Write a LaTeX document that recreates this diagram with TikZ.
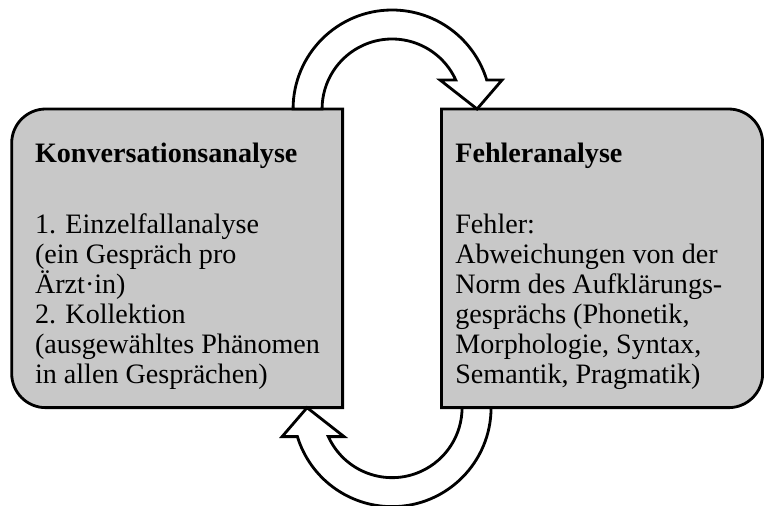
\documentclass[tikz,border=0pt]{standalone}
\usepackage{fontspec}
\setmainfont{Liberation Serif}
\usetikzlibrary{calc}
\definecolor{boxgray}{RGB}{200,200,200}
\tikzset{
  box/.style={minimum height=5.96cm, anchor=north west, inner sep=0pt},
  boxline/.style={draw, line width=1.6pt, fill=boxgray},
  boxtext/.style={anchor=north west, inner sep=0pt, align=left, font=\fontsize{16}{17.07}\selectfont},
  loop arrow/.style={draw, line width=1.6pt, fill=white}
}
\begin{document}
\begin{tikzpicture}[x=0.02cm, y=0.02cm]
  \useasboundingbox (0,0) rectangle (764,505);
  \node[box, minimum width=6.606cm] (kv) at (11.7,396) {};
  \node[box, minimum width=6.41cm] (fa) at (441.5,396) {};
  % the two boxes, rounded on the outer side only
  \draw[boxline] (kv.north east) -- ($(kv.north west)+(34,0)$) arc (90:180:34) -- ($(kv.south west)+(0,34)$) arc (180:270:34) -- (kv.south east) -- cycle;
  \draw[boxline] (fa.north west) -- ($(fa.north east)+(-34,0)$) arc (90:0:34) -- ($(fa.south east)+(0,34)$) arc (0:-90:34) -- (fa.south west) -- cycle;
  \node[boxtext] (kvtext) at ($(kv.north west)+(23,-34)$) {\textbf{Konversationsanalyse}\\[23pt]
    1. Einzelfallanalyse\\(ein Gespräch pro\\Ärzt·in)\\2. Kollektion\\(ausgewähltes Phänomen\\in allen Gesprächen)};
  \node[boxtext] (fatext) at ($(fa.north west)+(13.5,-34)$) {\textbf{Fehleranalyse}\\[23pt]
    Fehler:\\Abweichungen von der\\Norm des Aufklärungs-\\gesprächs (Phonetik,\\Morphologie, Syntax,\\Semantik, Pragmatik)};
  % the two bent arrows between the boxes
  \coordinate (top) at ($(kv.north east)!.5!(fa.north west)$);
  \coordinate (bot) at ($(kv.south east)!.5!(fa.south west)$);
  \draw[loop arrow, shift={(top)}] (180:99) arc (180:17.03:99) -- (110,29) -- (85,0) -- (48,29) -- (24.47:70) arc (24.47:180:70) -- cycle;
  \draw[loop arrow, shift={(bot)}, rotate=180] (180:99) arc (180:17.03:99) -- (110,29) -- (85,0) -- (48,29) -- (24.47:70) arc (24.47:180:70) -- cycle;
\end{tikzpicture}
\end{document}
